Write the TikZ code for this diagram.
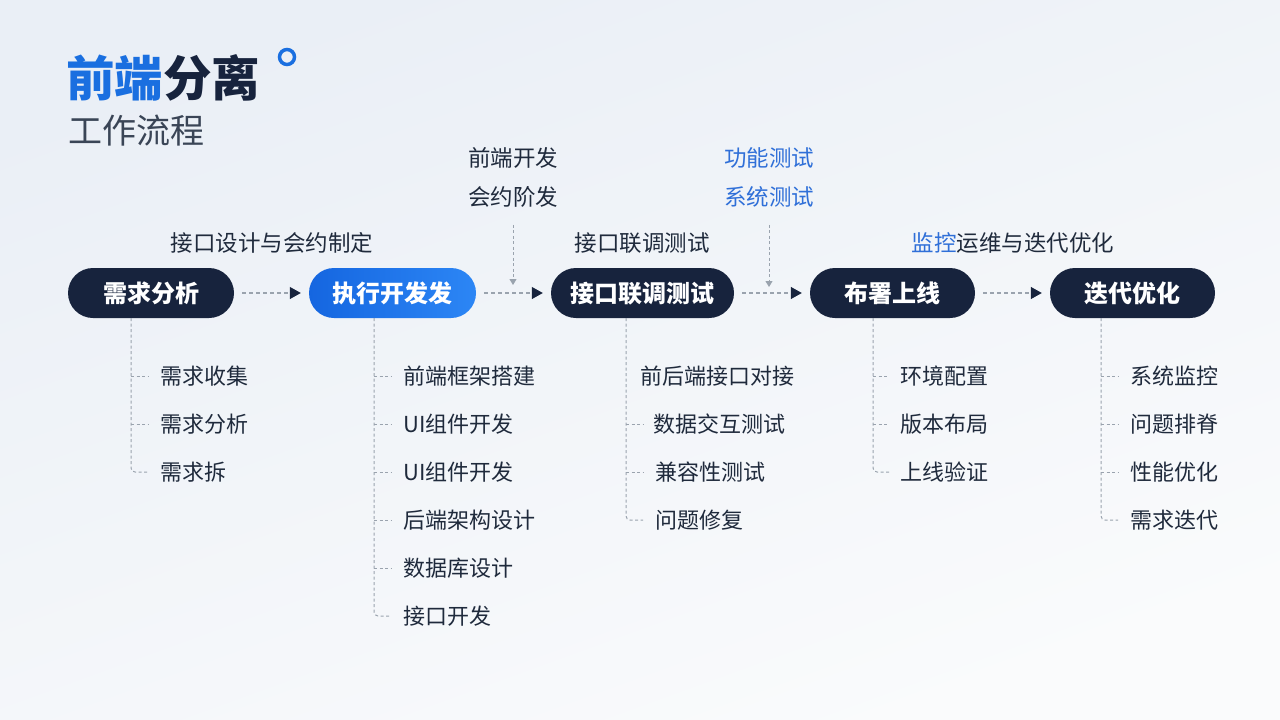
\documentclass[tikz,border=0pt]{standalone}
\usepackage{fontspec}
\setmainfont{Noto Sans CJK SC}
\usetikzlibrary{arrows.meta,calc}
\definecolor{navy}{HTML}{17233D}
\definecolor{brandblue}{HTML}{1A6FE0}
\definecolor{lblue}{HTML}{2F6FD8}
\definecolor{txt}{HTML}{1F2A3C}
\definecolor{subtitle}{HTML}{3A4556}
\definecolor{dashgray}{HTML}{9AA3AE}
\definecolor{bgtop}{HTML}{EAEFF6}
\definecolor{bgbot}{HTML}{FAFBFC}
\definecolor{pillA}{HTML}{1566E0}
\definecolor{pillB}{HTML}{2C86F5}
\tikzset{
  pill/.style={rounded corners=25pt, minimum height=50pt, inner xsep=12pt,
    text=white, font=\fontsize{24}{28}\selectfont\bfseries,
    text height=19.2pt, text depth=1.2pt},
  darkpill/.style={pill, fill=navy},
  bluepill/.style={pill, left color=pillA, right color=pillB},
  item/.style={anchor=west, inner sep=0pt, text=txt,
    font=\fontsize{22}{26}\selectfont, text height=17.6pt, text depth=1.1pt},
  toplabel/.style={inner sep=0pt, text=txt,
    font=\fontsize{22.5}{26}\selectfont, text height=18pt, text depth=1.1pt},
  sub/.style={draw=dashgray, line width=1pt, dash pattern=on 3pt off 2.5pt, rounded corners=4pt},
  flow/.style={draw=dashgray, line width=1.1pt, dash pattern=on 4pt off 3pt,
    -{Triangle[length=11pt,width=12pt,color=navy,fill=navy]}},
  down/.style={draw=dashgray, line width=1pt, dash pattern=on 3pt off 2.5pt,
    -{Triangle[length=6pt,width=7pt,color=dashgray,fill=dashgray]}},
}
\begin{document}
\begin{tikzpicture}[x=1pt,y=-1pt]
\useasboundingbox (0,0) rectangle (1280,720);
\shade[top color=bgtop, bottom color=bgbot, shading angle=20] (0,0) rectangle (1280,720);

% title
\node[anchor=west, inner sep=0pt, font=\fontsize{48.5}{54}\selectfont\bfseries,
  text height=38.8pt, text depth=2.4pt] (title) at (66,78)
  {\textcolor{brandblue}{前端}\textcolor{navy}{分离}};
\draw[brandblue, line width=3.5pt] (287,57) circle (7.5);
\node[anchor=west, inner sep=0pt, text=subtitle, font=\fontsize{34}{40}\selectfont,
  text height=27.2pt, text depth=1.7pt] (subt) at (68,131) {工作流程};

% pills
\node[darkpill, minimum width=166pt] (n1) at (151,293) {需求分析};
\node[bluepill, minimum width=167pt] (n2) at (392.5,293) {执行开发发};
\node[darkpill, minimum width=183pt] (n3) at (642.5,293) {接口联调测试};
\node[darkpill, minimum width=165pt] (n4) at (892.5,293) {布署上线};
\node[darkpill, minimum width=165pt] (n5) at (1132.5,293) {迭代优化};

% flow arrows
\draw[flow] ([xshift=8pt]n1.east) -- ([xshift=-8pt]n2.west);
\draw[flow] ([xshift=8pt]n2.east) -- ([xshift=-8pt]n3.west);
\draw[flow] ([xshift=8pt]n3.east) -- ([xshift=-8pt]n4.west);
\draw[flow] ([xshift=8pt]n4.east) -- ([xshift=-8pt]n5.west);

% top labels
\node[toplabel] (l1) at (272,243) {接口设计与会约制定};
\node[toplabel] (l2a) at (513,158) {前端开发};
\node[toplabel] (l2b) at (513,197) {会约阶发};
\node[toplabel] (l3) at (642,243) {接口联调测试};
\node[toplabel, text=lblue] (l4a) at (769,158) {功能测试};
\node[toplabel, text=lblue] (l4b) at (769,197) {系统测试};
\node[toplabel] (l5) at (1013,243) {\textcolor{lblue}{监控}运维与迭代优化};

\coordinate (d1) at (513,285);
\coordinate (d2) at (769,287);
\draw[down] ([yshift=-18pt]l2b.south) -- (d1);
\draw[down] ([yshift=-18pt]l4b.south) -- (d2);

% column 1
\node[item] (a1) at (160,376) {需求收集};
\node[item] (a2) at (160,424) {需求分析};
\node[item] (a3) at (160,472) {需求拆};
\draw[sub] ([xshift=-29pt]a1.west |- n1.south) |- ([xshift=-12pt]a3.west);
\foreach \n in {a1,a2} \draw[sub] ([xshift=-29pt]\n.west) -- ([xshift=-12pt]\n.west);

% column 2
\node[item] (b1) at (403,376) {前端框架搭建};
\node[item] (b2) at (403,424) {UI组件开发};
\node[item] (b3) at (403,472) {UI组件开发};
\node[item] (b4) at (403,520) {后端架构设计};
\node[item] (b5) at (403,568) {数据库设计};
\node[item] (b6) at (403,616) {接口开发};
\draw[sub] ([xshift=-29pt]b1.west |- n2.south) |- ([xshift=-12pt]b6.west);
\foreach \n in {b1,b2,b3,b4,b5} \draw[sub] ([xshift=-29pt]\n.west) -- ([xshift=-12pt]\n.west);

% column 3
\node[item] (c1) at (640,376) {前后端接口对接};
\node[item] (c2) at (653,424) {数据交互测试};
\node[item] (c3) at (655,472) {兼容性测试};
\node[item] (c4) at (655,520) {问题修复};
\draw[sub] ([xshift=-29pt]c4.west |- n3.south) |- ([xshift=-12pt]c4.west);
\draw[sub] ([xshift=-29pt]c4.west |- c2.west) -- ([xshift=-10pt]c2.west);
\draw[sub] ([xshift=-29pt]c3.west) -- ([xshift=-12pt]c3.west);

% column 4
\node[item] (e1) at (900,376) {环境配置};
\node[item] (e2) at (900,424) {版本布局};
\node[item] (e3) at (900,472) {上线验证};
\draw[sub] ([xshift=-27pt]e1.west |- n4.south) |- ([xshift=-11pt]e3.west);
\foreach \n in {e1,e2} \draw[sub] ([xshift=-27pt]\n.west) -- ([xshift=-11pt]\n.west);

% column 5
\node[item] (f1) at (1130,376) {系统监控};
\node[item] (f2) at (1130,424) {问题排脊};
\node[item] (f3) at (1130,472) {性能优化};
\node[item] (f4) at (1130,520) {需求迭代};
\draw[sub] ([xshift=-29pt]f1.west |- n5.south) |- ([xshift=-12pt]f4.west);
\foreach \n in {f1,f2,f3} \draw[sub] ([xshift=-29pt]\n.west) -- ([xshift=-12pt]\n.west);
\end{tikzpicture}
\end{document}
